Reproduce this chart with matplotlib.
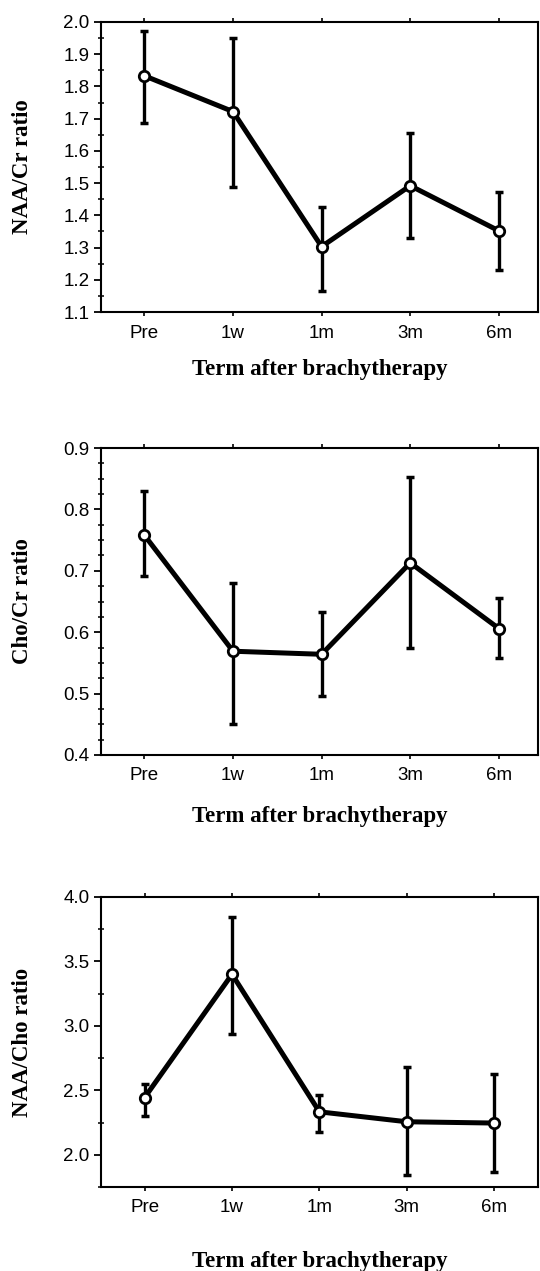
import matplotlib.pyplot as plt
from matplotlib.ticker import MultipleLocator

# categorias del eje x
terminos = ['Pre', '1w', '1m', '3m', '6m']

# NAA/Cr
naa_cr = [1.833, 1.722, 1.303, 1.492, 1.352]
naa_cr_sup = [1.973, 1.949, 1.425, 1.655, 1.474]
naa_cr_inf = [1.688, 1.489, 1.166, 1.331, 1.231]

# Cho/Cr
cho_cr = [0.758, 0.569, 0.564, 0.713, 0.606]
cho_cr_sup = [0.830, 0.680, 0.633, 0.853, 0.655]
cho_cr_inf = [0.692, 0.450, 0.496, 0.574, 0.558]

# NAA/Cho
naa_cho = [2.444, 3.40, 2.333, 2.256, 2.246]
naa_cho_sup = [2.548, 3.845, 2.463, 2.684, 2.630]
naa_cho_inf = [2.297, 2.94, 2.178, 1.845, 1.863]

paneles = [
    (naa_cr, naa_cr_sup, naa_cr_inf, 'NAA/Cr ratio', (1.1, 2.0), 0.1, 0.05),
    (cho_cr, cho_cr_sup, cho_cr_inf, 'Cho/Cr ratio', (0.4, 0.9), 0.1, 0.025),
    (naa_cho, naa_cho_sup, naa_cho_inf, 'NAA/Cho ratio', (1.75, 4.0), 0.5, 0.25),
]

# posiciones de los ejes en fraccion de figura
cajas = [
    [0.187, 0.7545, 0.809, 0.2282],
    [0.187, 0.406, 0.809, 0.2415],
    [0.187, 0.0661, 0.809, 0.2282],
]
xlims = [(-0.49, 4.44), (-0.49, 4.44), (-0.5, 4.5)]
xlabel_y = [-0.162, -0.166, -0.221]

fig = plt.figure(figsize=(5.4, 12.71), dpi=100)

for i, (medias, sup, inf, etiqueta, ylim, mayor, menor) in enumerate(paneles):
    ax = fig.add_axes(cajas[i])
    x = list(range(len(terminos)))
    err_inf = [m - l for m, l in zip(medias, inf)]
    err_sup = [u - m for m, u in zip(medias, sup)]
    ax.errorbar(x, medias, yerr=[err_inf, err_sup], fmt='none', ecolor='black',
                elinewidth=2.4, capsize=3, capthick=2.5, zorder=2)
    ax.plot(x, medias, color='black', linewidth=3.6, marker='o', markersize=7.5,
            markerfacecolor='white', markeredgecolor='black', markeredgewidth=2,
            zorder=3)

    ax.set_xlim(*xlims[i])
    ax.set_ylim(*ylim)
    ax.set_xticks(x)
    ax.set_xticklabels(terminos, family='Liberation Sans', fontsize=13.5)
    ax.yaxis.set_major_locator(MultipleLocator(mayor))
    ax.yaxis.set_minor_locator(MultipleLocator(menor))
    ax.yaxis.set_major_formatter(plt.FormatStrFormatter('%.1f'))
    for t in ax.get_yticklabels():
        t.set_family('Liberation Sans')
        t.set_fontsize(13.5)

    ax.tick_params(axis='x', which='major', top=True, direction='out',
                   length=3, width=1.2, pad=6)
    ax.tick_params(axis='y', which='major', direction='out', length=5,
                   width=1.3, pad=3.3)
    ax.tick_params(axis='y', which='minor', direction='inout', length=4,
                   width=1.1)
    for lado in ax.spines.values():
        lado.set_linewidth(1.5)

    ax.set_ylabel(etiqueta, family='Liberation Serif', fontweight='bold',
                  fontsize=16.5)
    ax.yaxis.set_label_coords(-0.156, 0.5)
    ax.set_xlabel('Term after brachytherapy', family='Liberation Serif',
                  fontweight='bold', fontsize=16.5)
    ax.xaxis.set_label_coords(0.5, xlabel_y[i])

fig.savefig('out.png', dpi=100)
